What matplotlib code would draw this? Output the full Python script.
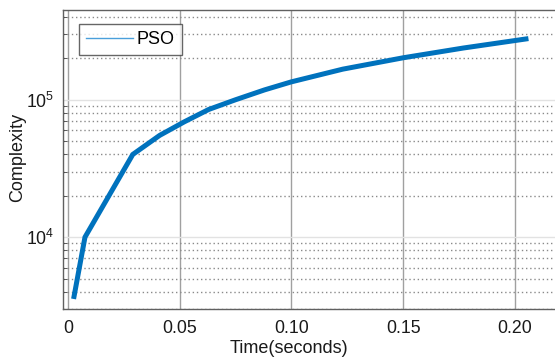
import matplotlib
matplotlib.use("Agg")
import matplotlib.pyplot as plt
from matplotlib.lines import Line2D
from matplotlib.ticker import LogLocator, NullFormatter, FixedLocator

plt.rcParams['font.family'] = ['Liberation Sans', 'DejaVu Sans']
plt.rcParams['mathtext.fontset'] = 'custom'
plt.rcParams['mathtext.rm'] = 'Liberation Sans'
plt.rcParams['mathtext.it'] = 'Liberation Sans:italic'
plt.rcParams['mathtext.bf'] = 'Liberation Sans:bold'

time_s = [0.0027, 0.0076, 0.029, 0.041, 0.052, 0.063, 0.075, 0.088, 0.100,
          0.123, 0.150, 0.177, 0.205]
complexity = [3700, 10000, 40000, 55000, 69000, 85000, 100000, 118000, 135000,
              167000, 202000, 238000, 277000]
xticks = [0, 0.05, 0.10, 0.15, 0.20]
xticklabels = ["0", "0.05", "0.10", "0.15", "0.20"]
series_name = "PSO"

fs_tick = 12.8
fs_lab = 13

fig = plt.figure(figsize=(5.55, 3.6), dpi=100)
ax = fig.add_axes([63/555, 1 - 309/360, 1 - 63/555, (309 - 10)/360])

color = '#0072BD'
ax.plot(time_s, complexity, color=color, lw=3.6, solid_joinstyle='miter', zorder=3)
ax.set_yscale('log')
ax.set_xlim(-0.00224, 0.218)
ax.set_ylim(3000, 4.5e5)

ax.xaxis.set_major_locator(FixedLocator(xticks))
ax.set_xticklabels(xticklabels)
ax.yaxis.set_major_locator(LogLocator(base=10, numticks=10))
ax.yaxis.set_minor_locator(LogLocator(base=10, subs=range(2, 10), numticks=20))
ax.yaxis.set_minor_formatter(NullFormatter())

ax.grid(True, axis='x', which='major', color='#a0a0a0', lw=1.0, ls='-')
ax.grid(True, axis='y', which='major', color='#e2e2e2', lw=1.0, ls='-')
ax.grid(True, axis='y', which='minor', color='#8a8a8a', lw=1.0, ls=(0, (1, 2)))
ax.set_axisbelow(True)

for s in ['left', 'top', 'bottom']:
    ax.spines[s].set_color('#606060')
    ax.spines[s].set_linewidth(1.0)
ax.spines['right'].set_visible(False)

ax.tick_params(axis='both', which='both', direction='in', colors='#404040',
               labelcolor='#1a1a1a', labelsize=fs_tick, top=False, right=False)
ax.tick_params(axis='y', which='major', length=0, pad=6)
ax.tick_params(axis='y', which='minor', length=3)
ax.tick_params(axis='x', which='major', length=0, pad=8)

ax.set_xlabel('Time(seconds)', fontsize=fs_lab, color='#1a1a1a')
ax.xaxis.set_label_coords((289 - 63) / 492, (309 - 340) / 299)
fig.text(17.5 / 555, 1 - 157 / 360, 'Complexity', rotation=90, ha='center',
         va='center', fontsize=fs_lab, color='#1a1a1a')

handle = Line2D([], [], color='#4a9fdb', lw=1.0)
leg = ax.legend([handle], [series_name], loc='upper left',
                bbox_to_anchor=((79 - 63) / (555 - 63), 1 - (24 - 10) / 299),
                fontsize=fs_lab, frameon=True, fancybox=False, handlelength=2.6,
                borderaxespad=0, borderpad=0.4, handletextpad=0.2)
leg.get_frame().set_edgecolor('#404040')
leg.get_frame().set_linewidth(1.0)

fig.savefig('out.png', dpi=100)
